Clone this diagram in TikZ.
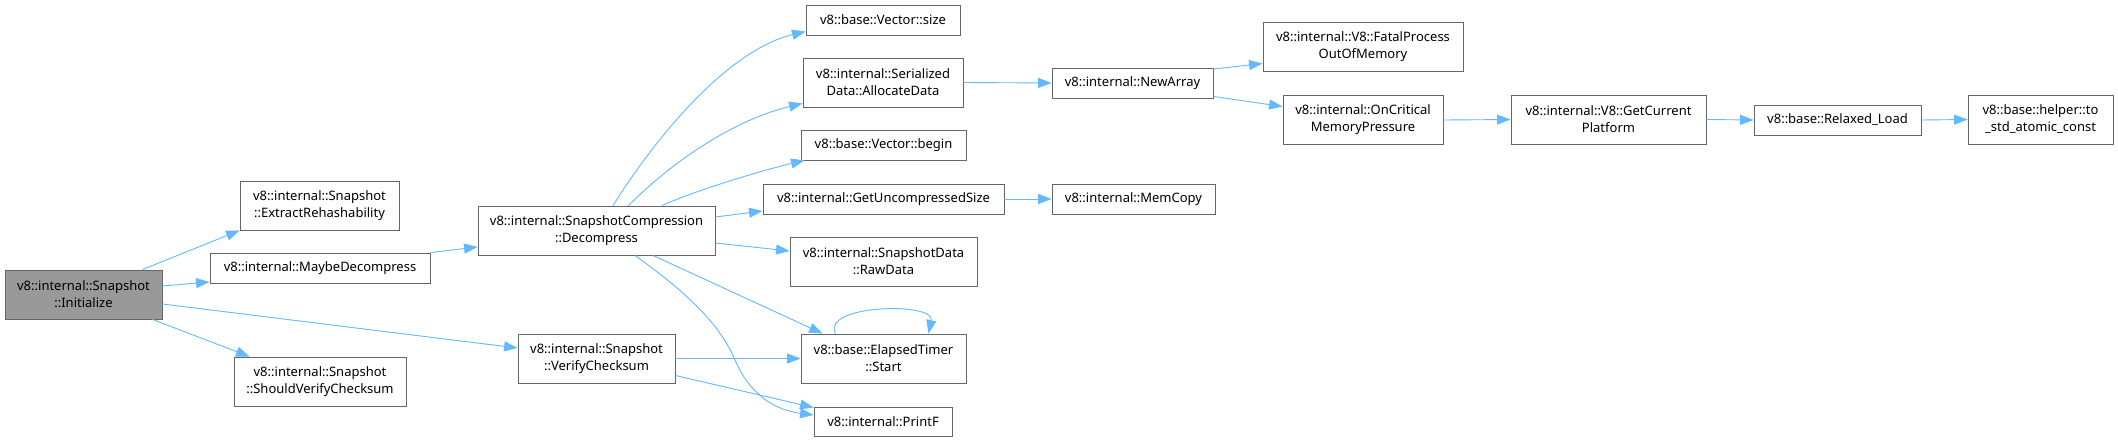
\documentclass[tikz,border=0pt]{standalone}
\usepackage{fontspec}
\setmainfont{Noto Sans}
\usetikzlibrary{arrows.meta, calc}
\definecolor{edgeblue}{HTML}{63B8FF}
\definecolor{boxgray}{HTML}{666666}
\definecolor{rootgray}{HTML}{999999}
\newcommand{\fnfont}{\fontsize{13}{17}\selectfont}

\begin{document}
\begin{tikzpicture}[x=1pt, y=-1pt,
  fn/.style={draw=boxgray, fill=white, line width=0.9pt, inner sep=0pt, align=center, font=\fnfont},
  rootfn/.style={fn, fill=rootgray},
  edge/.style={draw=edgeblue, line width=0.9pt, -{Triangle[length=13.5pt, width=10pt]}}]

% Page
\fill[white] (0,0) rectangle (2118,442);
\useasboundingbox (0,0) rectangle (2118,442);

% ============================================================
% Nodes (centre, width, height in px)
% ============================================================
\node[rootfn, minimum width=157, minimum height=49] (init) at (83.5,294.5) {v8::internal::Snapshot\\::Initialize};

\node[fn, minimum width=159, minimum height=49] (extract) at (319.5,205.5) {v8::internal::Snapshot\\::ExtractRehashability};
\node[fn, minimum width=220, minimum height=30] (maybe) at (320,268) {v8::internal::MaybeDecompress};
\node[fn, minimum width=172, minimum height=49] (should) at (320,381.5) {v8::internal::Snapshot\\::ShouldVerifyChecksum};

\node[fn, minimum width=237, minimum height=49] (decomp) at (596.5,230.5) {v8::internal::SnapshotCompression\\::Decompress};
\node[fn, minimum width=157, minimum height=49] (verify) at (596.5,358.5) {v8::internal::Snapshot\\::VerifyChecksum};

\node[fn, minimum width=154, minimum height=30] (vsize) at (883,20) {v8::base::Vector::size};
\node[fn, minimum width=160, minimum height=49] (alloc) at (883,82.5) {v8::internal::Serialized\\Data::AllocateData};
\node[fn, minimum width=165, minimum height=30] (vbegin) at (883.5,145) {v8::base::Vector::begin};
\node[fn, minimum width=241, minimum height=30] (getunc) at (883.5,199) {v8::internal::GetUncompressedSize};
\node[fn, minimum width=187, minimum height=49] (rawdata) at (883.5,261.5) {v8::internal::SnapshotData\\::RawData};
\node[fn, minimum width=165, minimum height=49] (start) at (883.5,358.5) {v8::base::ElapsedTimer\\::Start};
\node[fn, minimum width=138, minimum height=29] (printf) at (883,421.5) {v8::internal::PrintF};

\node[fn, minimum width=161, minimum height=30] (newarray) at (1132.5,83) {v8::internal::NewArray};
\node[fn, minimum width=163, minimum height=30] (memcopy) at (1133.5,199) {v8::internal::MemCopy};

\node[fn, minimum width=200, minimum height=49] (fatal) at (1363,46.5) {v8::internal::V8::FatalProcess\\OutOfMemory};
\node[fn, minimum width=160, minimum height=49] (oncrit) at (1363,120) {v8::internal::OnCritical\\MemoryPressure};

\node[fn, minimum width=195, minimum height=49] (getplat) at (1608.5,119.5) {v8::internal::V8::GetCurrent\\Platform};
\node[fn, minimum width=167, minimum height=30] (relaxed) at (1837.5,120) {v8::base::Relaxed\_Load};
\node[fn, minimum width=145, minimum height=49] (tostd) at (2040.5,119.5) {v8::base::helper::to\\\_std\_atomic\_const};

% ============================================================
% Calls from Initialize
% ============================================================
\draw[edge] ($(init.north east)+(-20,0)$) -- (extract.south west);
\draw[edge] ($(init.east)+(0,-8.5)$) -- ($(maybe.south west)+(0,-1.5)$);
\draw[edge] ($(init.east)+(0,9.5)$) -- ($(verify.west)+(0,-10.5)$);
\draw[edge] ($(init.south east)+(-10,0)$) -- ($(should.north west)+(16,0)$);
\draw[edge] (maybe.north east) -- ($(decomp.west)+(0,16.5)$);

% ============================================================
% Calls from Decompress
% ============================================================
\draw[edge] ($(decomp.north)+(16.5,0)$) .. controls +(47,-75) and +(-75,18) .. ($(vsize.west)+(0,11.5)$);
\draw[edge] ($(decomp.north)+(32,0)$) .. controls +(50,-50) and +(-63,15) .. ($(alloc.south west)+(0,-4)$);
\draw[edge] ($(decomp.north)+(65.5,0)$) .. controls +(38,-17) and +(-35,8) .. ($(vbegin.south west)+(4,0)$);
\draw[edge] ($(decomp.east)+(0,-13.5)$) -- ($(getunc.west)+(0,12)$);
\draw[edge] ($(decomp.east)+(0,12.5)$) -- ($(rawdata.west)+(0,-10.5)$);
\draw[edge] ($(decomp.south)+(56.5,0)$) -- ($(start.north west)+(22,0)$);
\draw[edge] ($(decomp.south)+(38.5,0)$) .. controls (690,295) and (720,325) .. (735,360)
  .. controls (750,395) and (775,410) .. ($(printf.west)+(0,-6.5)$);

% ============================================================
% Calls from VerifyChecksum and ElapsedTimer::Start
% ============================================================
\draw[edge] (verify.east) -- (start.west);
\draw[edge] ($(verify.east)+(0,17)$) -- ($(printf.north west)+(0,1)$);
\draw[edge] ($(start.north west)+(35,0)$) .. controls +(-15,-29) and +(7,-32) .. ($(start.north east)+(-38,0)$);

% ============================================================
% Deeper calls
% ============================================================
\draw[edge] (alloc.east) -- (newarray.west);
\draw[edge] (getunc.east) -- (memcopy.west);
\draw[edge] ($(newarray.north east)+(0,1.5)$) -- ($(fatal.west)+(0,17)$);
\draw[edge] ($(newarray.south east)+(0,-2)$) -- ($(oncrit.west)+(0,-13.5)$);
\draw[edge] (oncrit.east) -- (getplat.west);
\draw[edge] (getplat.east) -- (relaxed.west);
\draw[edge] (relaxed.east) -- (tostd.west);

\end{tikzpicture}
\end{document}
